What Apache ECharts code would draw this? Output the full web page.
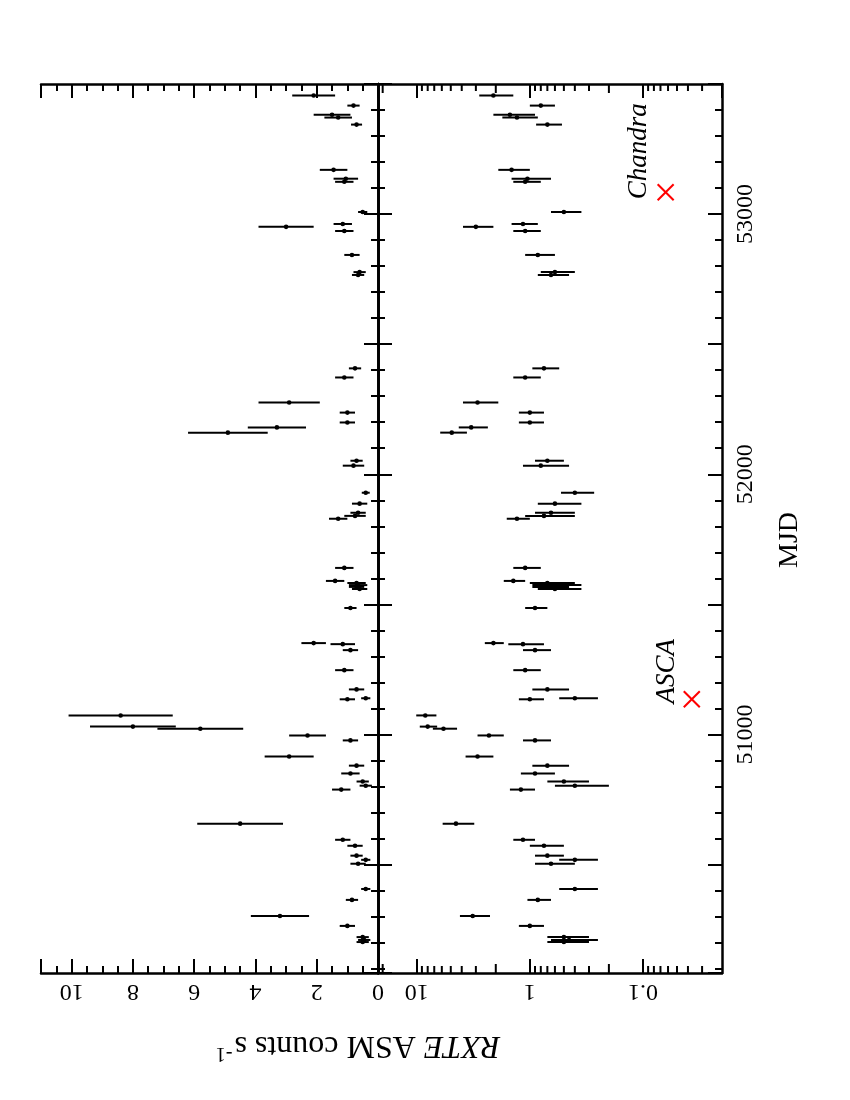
<!DOCTYPE html>
<html><head><meta charset="utf-8">
<script src="https://cdn.jsdelivr.net/npm/echarts@6/dist/echarts.min.js"></script>
<style>html,body{margin:0;padding:0;background:#fff}#c{width:850px;height:1100px}</style>
</head><body><div id="c"></div>
<script>
// ---- data (MJD, ASM rate, 1-sigma error) ----
const mjd = [53456,53417,53382,53371,53344,53170,53136,53124,53008,52962,52951,52935,52843,52777,52766,
  52407,52372,52276,52237,52199,52180,52160,52052,52033,51929,51887,51852,51840,51829,51640,51590,51582,
  51574,51567,51559,51486,51351,51347,51324,51247,51173,51139,51135,51073,51030,51022,50996,50977,50915,50880,
  50850,50819,50803,50788,50657,50595,50572,50534,50518,50503,50406,50364,50302,50264,50221,50210,50202];
const rate = [2.1,0.8,1.5,1.3,0.7,1.45,1.05,1.1,0.5,1.15,3.0,1.1,0.85,0.6,0.65,
  0.75,1.1,2.9,1.0,1.0,3.3,4.9,0.7,0.8,0.4,0.6,0.65,0.75,1.3,1.1,1.4,0.7,
  0.65,0.7,0.6,0.9,2.1,1.15,0.9,1.1,0.7,0.4,1.0,8.4,8.0,5.8,2.3,0.9,2.9,0.7,
  0.9,0.5,0.4,1.2,4.5,1.15,0.75,0.7,0.4,0.65,0.4,0.85,3.2,1.0,0.5,0.45,0.5];
const rateErr = [0.7,0.2,0.6,0.45,0.18,0.45,0.4,0.3,0.15,0.3,0.9,0.3,0.25,0.2,0.2,
  0.2,0.3,1.0,0.25,0.25,0.95,1.3,0.2,0.35,0.13,0.25,0.25,0.35,0.3,0.3,0.3,0.3,
  0.3,0.25,0.25,0.2,0.4,0.4,0.25,0.3,0.25,0.15,0.25,1.7,1.4,1.4,0.6,0.25,0.8,0.25,
  0.3,0.2,0.2,0.3,1.4,0.25,0.25,0.2,0.15,0.25,0.15,0.2,0.95,0.25,0.2,0.2,0.2];
// observation epochs
const obsNames = ['ASCA', 'Chandra'];
const obsMjd = [51135, 53084];
const obsLevel = [0.037, 0.063];
// axes
const linLabels = [0, 2, 4, 6, 8, 10];
const logLabels = [0.1, 1, 10];
const logMinorTicks = [0.03,0.04,0.05,0.06,0.07,0.08,0.09,0.2,0.3,0.4,0.5,0.6,0.7,0.8,0.9,2,3,4,5,6,7,8,9,20];
const mjdLabels = [51000, 52000, 53000];

const MJD_MIN = 50083, MJD_MAX = 53500;
const LIN_MAX = 11, LOG_MIN = 0.02, LOG_MAX = 22;
const FONT = '"Liberation Serif", "Times New Roman", serif';

const chart = echarts.init(document.getElementById('c'), null, {renderer: 'canvas'});

const axLine = {show: true, lineStyle: {color: '#000', width: 2.5}};
function xAxisDef(grid, pos, isLog, withLabels) {
  const a = {
    gridIndex: grid, position: pos, inverse: true,
    axisLine: axLine, splitLine: {show: false},
    axisTick: {show: true, inside: true, length: 14, lineStyle: {color: '#000', width: 2}},
    axisLabel: {show: withLabels, rotate: 180, align: 'center', verticalAlign: 'middle', margin: 18,
      fontSize: 24, color: '#000', fontFamily: FONT, showMinLabel: false, showMaxLabel: false}
  };
  if (isLog) {
    a.type = 'log'; a.logBase = 10; a.min = LOG_MIN; a.max = LOG_MAX;
    a.axisLabel.formatter = v => (logLabels.some(t => Math.abs(t - v) / t < 1e-6) ? String(v) : '');
  } else {
    a.type = 'value'; a.min = 0; a.max = LIN_MAX; a.interval = 2;
    a.minorTick = {show: true, splitNumber: 4, length: 7, lineStyle: {color: '#000', width: 2}};
    a.axisLabel.showMinLabel = true;
    a.axisLabel.formatter = v => (linLabels.indexOf(v) >= 0 ? String(v) : '');
  }
  return a;
}
function yAxisDef(grid, pos, withLabels) {
  return {
    type: 'value', gridIndex: grid, position: pos, min: MJD_MIN, max: MJD_MAX, splitNumber: 7,
    axisLine: axLine, splitLine: {show: false},
    axisTick: {show: true, inside: true, length: 14, lineStyle: {color: '#000', width: 2}},
    minorTick: {show: true, splitNumber: 5, length: 7, lineStyle: {color: '#000', width: 2}},
    axisLabel: {show: withLabels, rotate: 90, align: 'center', verticalAlign: 'middle', margin: 24,
      fontSize: 24, color: '#000', fontFamily: FONT,
      formatter: v => (mjdLabels.indexOf(v) >= 0 ? String(v) : '')}
  };
}

function errSeries(xi, yi, isLog) {
  return {
    type: 'custom', xAxisIndex: xi, yAxisIndex: yi, clip: true,
    encode: {x: 0, y: 1},
    data: mjd.map((m, i) => [rate[i], m, rateErr[i]]),
    renderItem(params, api) {
      const r = api.value(0), m = api.value(1), e = api.value(2);
      let lo = r - e, hi = r + e;
      if (isLog) lo = Math.max(lo, LOG_MIN);
      else lo = Math.max(lo, 0);
      const p1 = api.coord([lo, m]), p2 = api.coord([hi, m]), c = api.coord([r, m]);
      return {type: 'group', children: [
        {type: 'line', shape: {x1: p1[0], y1: p1[1], x2: p2[0], y2: p2[1]}, style: {stroke: '#000', lineWidth: 2}},
        {type: 'circle', shape: {cx: c[0], cy: c[1], r: 2.3}, style: {fill: '#000'}}
      ]};
    }
  };
}

const option = {
  animation: false,
  backgroundColor: '#fff',
  grid: [
    {left: 41, top: 84, width: 337, height: 889},
    {left: 378, top: 84, width: 344, height: 889}
  ],
  xAxis: [
    xAxisDef(0, 'bottom', false, true),
    xAxisDef(0, 'top', false, false),
    xAxisDef(1, 'bottom', true, true),
    xAxisDef(1, 'top', true, false)
  ],
  yAxis: [
    yAxisDef(0, 'left', false),
    yAxisDef(0, 'right', false),
    yAxisDef(1, 'left', false),
    yAxisDef(1, 'right', true)
  ],
  graphic: [
    {type: 'text', x: 790, y: 540, rotation: Math.PI / 2,
      style: {text: 'MJD', font: '28px ' + FONT, fill: '#000', align: 'center', verticalAlign: 'middle'}},
    {type: 'text', x: 358, y: 1045, rotation: Math.PI,
      style: {text: '{it|RXTE} ASM counts s{sup|-1}', font: '32px ' + FONT, fill: '#000',
        align: 'center', verticalAlign: 'middle',
        rich: {it: {fontStyle: 'italic', fontSize: 32, fontFamily: FONT},
               sup: {fontSize: 20, fontFamily: FONT, verticalAlign: 'top', padding: [0, 0, 16, 2]}}}}
  ],
  series: [
    errSeries(0, 0, false),
    errSeries(2, 2, true),
    {
      type: 'custom', xAxisIndex: 2, yAxisIndex: 2, clip: false, encode: {x: 0, y: 1},
      data: logMinorTicks.map(v => [v, MJD_MIN]),
      renderItem(params, api) {
        const v = api.value(0);
        const b = api.coord([v, MJD_MIN]), t = api.coord([v, MJD_MAX]);
        const len = (v === 2 || v === 0.2 || v === 20) ? 9 : 7;
        return {type: 'group', children: [
          {type: 'line', shape: {x1: b[0], y1: b[1], x2: b[0], y2: b[1] - len}, style: {stroke: '#000', lineWidth: 2}},
          {type: 'line', shape: {x1: t[0], y1: t[1], x2: t[0], y2: t[1] + len}, style: {stroke: '#000', lineWidth: 2}}
        ]};
      }
    },
    {
      type: 'custom', xAxisIndex: 2, yAxisIndex: 2, clip: false, encode: {x: 0, y: 1},
      data: obsMjd.map((m, i) => [obsLevel[i], m]),
      renderItem(params, api) {
        const c = api.coord([api.value(0), api.value(1)]);
        const s = 8;
        const name = obsNames[params.dataIndex];
        const off = name === 'ASCA' ? [-25, -28] : [-27, -41];
        return {type: 'group', children: [
          {type: 'line', shape: {x1: c[0] - s, y1: c[1] - s, x2: c[0] + s, y2: c[1] + s}, style: {stroke: '#ff0000', lineWidth: 2}},
          {type: 'line', shape: {x1: c[0] - s, y1: c[1] + s, x2: c[0] + s, y2: c[1] - s}, style: {stroke: '#ff0000', lineWidth: 2}},
          {type: 'text', x: c[0] + off[0], y: c[1] + off[1], rotation: Math.PI / 2,
            style: {text: name, font: 'italic 27px ' + FONT, fill: '#000', align: 'center', verticalAlign: 'middle'}}
        ]};
      }
    }
  ]
};
chart.setOption(option);
</script>
</body></html>
